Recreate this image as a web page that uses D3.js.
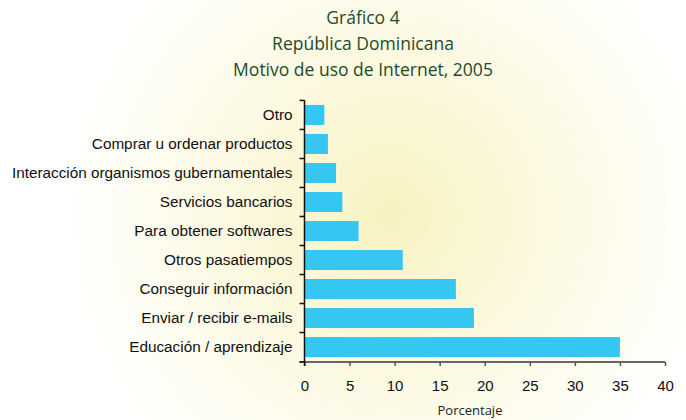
<!DOCTYPE html>
<html>
<head>
<meta charset="utf-8">
<script src="https://cdn.jsdelivr.net/npm/d3@7"></script>
<style>
  body { margin: 0; background: #fff; }
  svg { display: block; }
</style>
</head>
<body>
<div id="chart"></div>
<script>
// data (top to bottom)
var categories = [
  "Otro",
  "Comprar u ordenar productos",
  "Interacción organismos gubernamentales",
  "Servicios bancarios",
  "Para obtener softwares",
  "Otros pasatiempos",
  "Conseguir información",
  "Enviar / recibir e-mails",
  "Educación / aprendizaje"
];
var values = [2.2, 2.6, 3.5, 4.2, 6.0, 10.9, 16.8, 18.8, 35.0];
var xTicks = [0, 5, 10, 15, 20, 25, 30, 35, 40];
var titleLines = ["Gráfico 4", "República Dominicana", "Motivo de uso de Internet, 2005"];

var w = 686, h = 420;
var margin = {top: 100, right: 21, bottom: 58, left: 304.5};

var svg = d3.select("#chart").append("svg")
  .attr("width", w)
  .attr("height", h);

// soft yellow glow behind the plot
var grad = svg.append("defs").append("radialGradient")
  .attr("id", "glow")
  .attr("gradientUnits", "userSpaceOnUse")
  .attr("cx", 390).attr("cy", 215).attr("r", 330);
grad.append("stop").attr("offset", "0%").attr("stop-color", "#f8f2c0");
grad.append("stop").attr("offset", "40%").attr("stop-color", "#fbf8dc");
grad.append("stop").attr("offset", "100%").attr("stop-color", "#ffffff");

svg.append("rect")
  .attr("width", w).attr("height", h)
  .attr("fill", "url(#glow)");

// title
svg.selectAll("text.title")
  .data(titleLines)
  .enter()
  .append("text")
  .attr("class", "title")
  .attr("x", 363)
  .attr("y", function(d, i){ return 24 + i * 26; })
  .attr("text-anchor", "middle")
  .style("font-family", "'Open Sans', sans-serif")
  .style("font-size", "17.5px")
  .style("fill", "#1f4a2c")
  .text(function(d){ return d; });

var x = d3.scaleLinear()
  .domain([0, 40])
  .range([margin.left, w - margin.right]);

var y = d3.scaleBand()
  .domain(categories)
  .range([margin.top, h - margin.bottom])
  .paddingInner(0.31)
  .paddingOuter(0.17);

// bars
svg.selectAll("rect.bar")
  .data(values)
  .enter()
  .append("rect")
  .attr("class", "bar")
  .attr("x", x(0) + 0.5)
  .attr("y", function(d, i){ return y(categories[i]); })
  .attr("width", function(d){ return x(d) - x(0) - 0.5; })
  .attr("height", y.bandwidth())
  .attr("fill", "#36c6f2");

// x axis
var xAxis = svg.append("g")
  .attr("transform", "translate(0," + (h - margin.bottom) + ")")
  .call(d3.axisBottom(x).tickValues(xTicks).tickSize(4).tickPadding(14));
xAxis.select(".domain")
  .attr("d", "M" + (margin.left - 5) + ",0H" + x(40))
  .attr("stroke", "#666").attr("stroke-width", 2);
xAxis.selectAll(".tick line").attr("stroke", "#555").attr("stroke-width", 1.5);
xAxis.selectAll("text")
  .style("font-family", "'Liberation Sans', Arial, sans-serif")
  .style("font-size", "15px")
  .style("fill", "#111");

// y axis, ticks between the categories
var yEdges = categories.map(function(c){ return y(c) - y.step() * y.paddingInner() / 2; });
yEdges.push(h - margin.bottom);
var yAxis = svg.append("g");
yAxis.append("line")
  .attr("x1", margin.left).attr("x2", margin.left)
  .attr("y1", margin.top).attr("y2", h - margin.bottom + 4)
  .attr("stroke", "#111").attr("stroke-width", 1.5);
yAxis.selectAll("line.tick")
  .data(yEdges)
  .enter()
  .append("line")
  .attr("class", "tick")
  .attr("x1", margin.left - 5).attr("x2", margin.left)
  .attr("y1", function(d){ return d; }).attr("y2", function(d){ return d; })
  .attr("stroke", "#111").attr("stroke-width", 1.5);
yAxis.selectAll("text")
  .data(categories)
  .enter()
  .append("text")
  .attr("x", margin.left - 12)
  .attr("y", function(d){ return y(d) + y.bandwidth() / 2; })
  .attr("dy", "0.35em")
  .attr("text-anchor", "end")
  .style("font-family", "'Liberation Sans', Arial, sans-serif")
  .style("font-size", "15.3px")
  .style("fill", "#111")
  .text(function(d){ return d; });

// axis title
svg.append("text")
  .attr("x", 470)
  .attr("y", 415)
  .attr("text-anchor", "middle")
  .style("font-family", "'Open Sans', sans-serif")
  .style("font-size", "13px")
  .style("fill", "#222")
  .text("Porcentaje");
</script>
</body>
</html>
